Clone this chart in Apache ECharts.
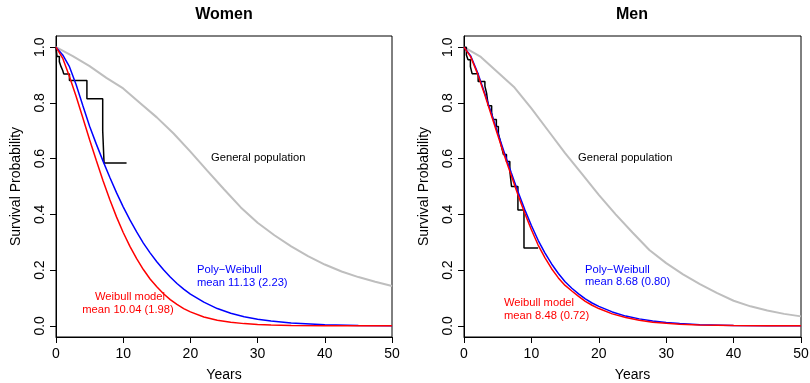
<!DOCTYPE html>
<html><head><meta charset="utf-8">
<script src="https://cdn.jsdelivr.net/npm/echarts@6/dist/echarts.min.js"></script>
<style>html,body{margin:0;padding:0;background:#fff}#c{width:810px;height:383px}</style>
</head><body><div id="c"></div>
<script>
// ---- data ----
const curveYears = [0,1,2,3,4,5,6,7,8,9,10,11,12,13,14,15,16,17,18,19,20,22,24,26,28,30,32,35,40,45,50];
const weibullWomen = [1,0.96,0.895,0.823,0.746,0.668,0.593,0.521,0.453,0.391,0.335,0.285,0.241,0.202,0.168,0.140,0.115,0.094,0.077,0.062,0.050,0.032,0.020,0.013,0.008,0.005,0.003,0.0012,0.0003,0.0001,0];
const polyWomen    = [1,0.972,0.93,0.865,0.79,0.716,0.652,0.591,0.533,0.478,0.427,0.380,0.337,0.297,0.262,0.230,0.201,0.175,0.152,0.132,0.114,0.085,0.062,0.045,0.033,0.024,0.017,0.010,0.004,0.0015,0.0006];
const weibullMen   = [1,0.965,0.905,0.835,0.76,0.685,0.61,0.54,0.47,0.405,0.345,0.29,0.245,0.205,0.172,0.145,0.125,0.106,0.088,0.074,0.062,0.043,0.030,0.020,0.013,0.009,0.006,0.003,0.001,0.0003,0.0001];
const polyMen      = [1,0.968,0.91,0.84,0.767,0.693,0.62,0.55,0.482,0.418,0.36,0.307,0.262,0.222,0.188,0.158,0.135,0.115,0.097,0.082,0.070,0.050,0.035,0.025,0.017,0.012,0.008,0.004,0.0015,0.0005,0.0002];
const popYears  = [0,2.5,5,7.5,10,12.5,15,17.5,20,22.5,25,27.5,30,32.5,35,37.5,40,42.5,45,47.5,50];
const popWomen  = [1.0,0.968,0.932,0.89,0.852,0.80,0.748,0.69,0.625,0.557,0.49,0.425,0.37,0.325,0.285,0.25,0.22,0.195,0.175,0.158,0.143];
const popMen    = [1.0,0.965,0.91,0.855,0.78,0.70,0.62,0.545,0.47,0.40,0.335,0.272,0.225,0.185,0.15,0.118,0.09,0.07,0.055,0.043,0.034];
const kmWomenT  = [0,0.15,0.5,0.75,1.0,1.15,2.0,4.6,6.95,7.15,10.5];
const kmWomenS  = [1.0,0.966,0.948,0.93,0.916,0.904,0.88,0.815,0.70,0.584,0.584];
const kmMenT    = [0,0.35,0.6,0.95,1.2,2.1,3.1,3.35,3.6,4.1,4.3,4.8,5.1,5.35,5.6,5.85,6.3,6.8,7.05,8.0,8.9,11.0];
const kmMenS    = [1.0,0.972,0.955,0.93,0.905,0.877,0.86,0.835,0.79,0.765,0.74,0.715,0.69,0.665,0.64,0.615,0.59,0.555,0.50,0.416,0.279,0.279];
const xTicks = [0,10,20,30,40,50];
const yTicks = [0,0.2,0.4,0.6,0.8,1.0];
const panelTitles = ['Women','Men'];
const xTitle = 'Years';
const yTitle = 'Survival Probability';

const FONT = '"Liberation Sans", Arial, Helvetica, sans-serif';
const zip = (a,b) => a.map((v,i)=>[v,b[i]]);
const chart = echarts.init(document.getElementById('c'), null, {renderer:'canvas'});

const grids = [
  {left:56, top:36, width:336, height:301},
  {left:464, top:36, width:337, height:301}
];
function xAx(i){return {gridIndex:i,type:'value',min:0,max:50,interval:10,
  axisLine:{show:true,onZero:false,lineStyle:{color:'#000',width:1}},
  axisTick:{show:true,length:6,customValues:xTicks,lineStyle:{color:'#000'}},
  axisLabel:{fontSize:14,color:'#000',margin:10,customValues:xTicks,fontFamily:FONT},
  splitLine:{show:false},
  name:xTitle,nameLocation:'middle',nameGap:31,nameTextStyle:{fontSize:14,color:'#000',fontFamily:FONT}};}
function yAx(i){return {gridIndex:i,type:'value',min:-0.04,max:1.04,
  axisLine:{show:true,onZero:false,lineStyle:{color:'#000',width:1}},
  axisTick:{show:true,length:6,customValues:yTicks,lineStyle:{color:'#000'}},
  axisLabel:{fontSize:14,color:'#000',margin:9,rotate:90,customValues:yTicks,fontFamily:FONT,formatter:v=>v.toFixed(1)},
  splitLine:{show:false},
  name:yTitle,nameLocation:'middle',nameGap:33,nameTextStyle:{fontSize:14,color:'#000',fontFamily:FONT}};}
function line(i,x,y,color,w,step){const s={type:'line',xAxisIndex:i,yAxisIndex:i,data:zip(x,y),showSymbol:false,
  lineStyle:{color:color,width:w},itemStyle:{color:color},animation:false,silent:true};
  if(step) s.step='end'; return s;}

const series = [
  line(0,popYears,popWomen,'#BEBEBE',2),
  line(0,kmWomenT,kmWomenS,'#000',1.5,true),
  line(0,curveYears,polyWomen,'#0000FF',1.5),
  line(0,curveYears,weibullWomen,'#FF0000',1.5),
  line(1,popYears,popMen,'#BEBEBE',2),
  line(1,kmMenT,kmMenS,'#000',1.5,true),
  line(1,curveYears,polyMen,'#0000FF',1.5),
  line(1,curveYears,weibullMen,'#FF0000',1.5)
];
function txt(x,y,s,color,align,size,weight){return {type:'text',x:x,y:y,silent:true,
  style:{text:s,fill:color,align:align,verticalAlign:'middle',font:(weight||'normal')+' '+size+'px '+FONT}};}
const graphic = [
  txt(224,15,panelTitles[0],'#000','center',16,'bold'),
  txt(632,15,panelTitles[1],'#000','center',16,'bold'),
  txt(211,158,'General population','#000','left',11.2),
  txt(578,158,'General population','#000','left',11.2),
  txt(197,270,'Poly\u2212Weibull','#0000FF','left',11.2),
  txt(197,283,'mean 11.13 (2.23)','#0000FF','left',11.2),
  txt(130,297,'Weibull model','#FF0000','center',11.2),
  txt(128,310,'mean 10.04 (1.98)','#FF0000','center',11.2),
  txt(585,270,'Poly\u2212Weibull','#0000FF','left',11.2),
  txt(585,282,'mean 8.68 (0.80)','#0000FF','left',11.2),
  txt(504,303,'Weibull model','#FF0000','left',11.2),
  txt(504,316,'mean 8.48 (0.72)','#FF0000','left',11.2)
];
chart.setOption({
  animation:false,
  backgroundColor:'#fff',
  grid: grids.map(g=>Object.assign({show:true,borderColor:'#000',borderWidth:1,backgroundColor:'transparent',containLabel:false,outerBoundsMode:'none'},g)),
  xAxis:[xAx(0),xAx(1)],
  yAxis:[yAx(0),yAx(1)],
  series:series,
  graphic:graphic
});
</script></body></html>
